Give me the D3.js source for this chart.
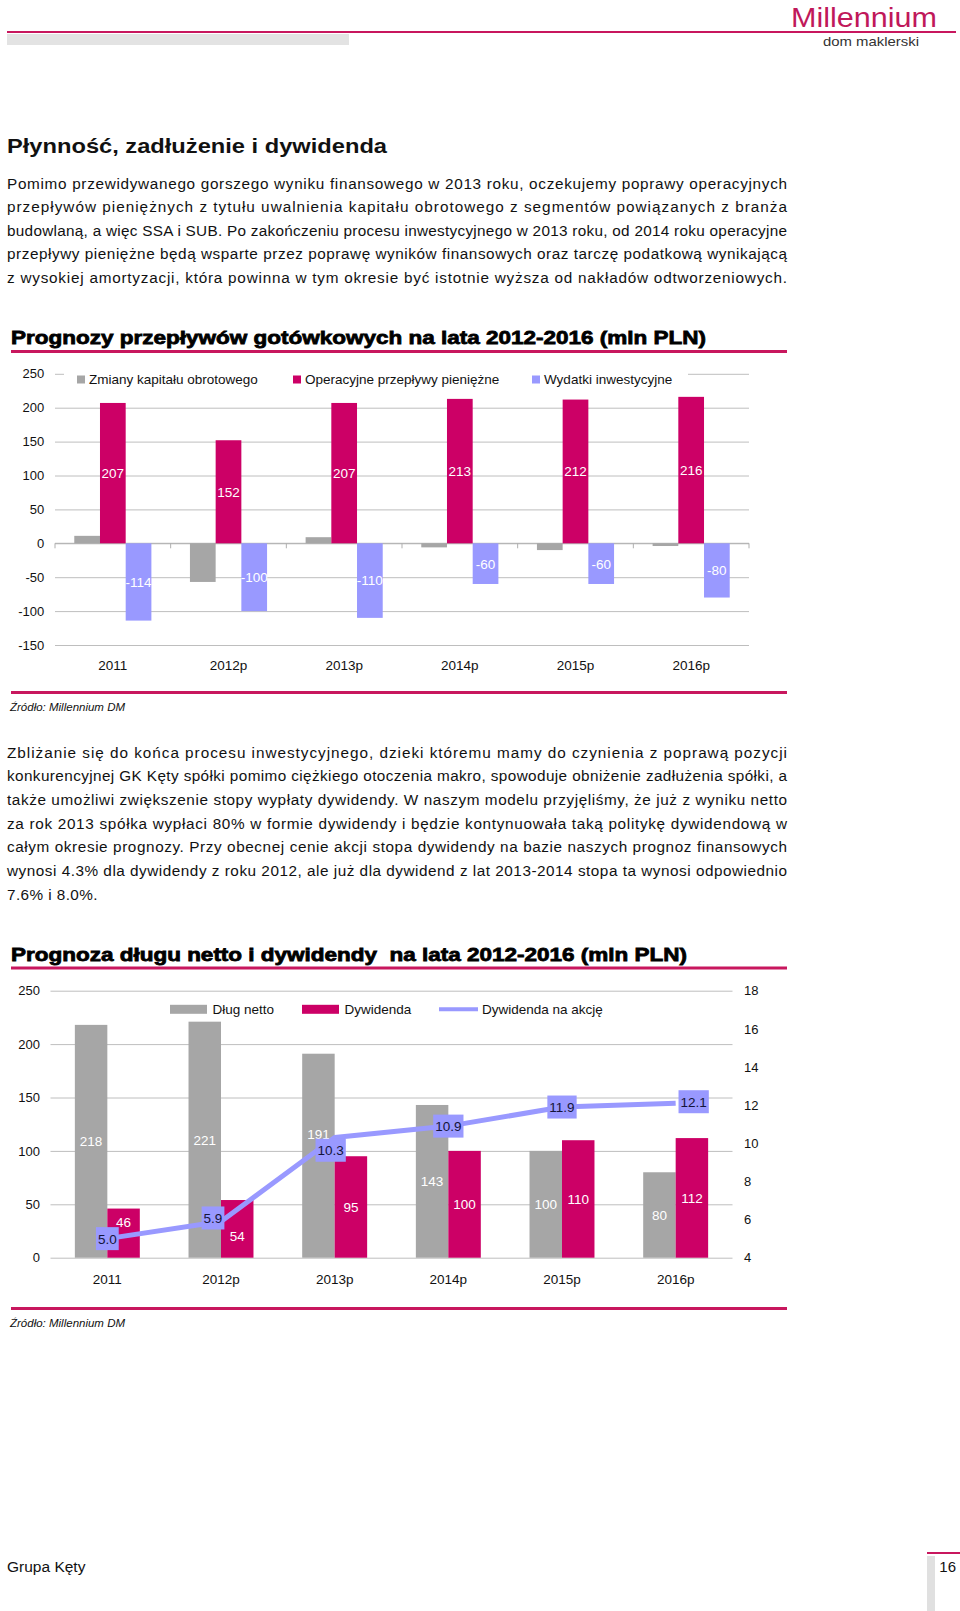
<!DOCTYPE html>
<html><head><meta charset="utf-8">
<script src="https://cdn.jsdelivr.net/npm/d3@7"></script>
<style>
html,body{margin:0;padding:0;background:#fff;}
svg{display:block;}
text{font-family:"Liberation Sans", Arial, sans-serif;}
</style></head><body>
<svg id="page" width="960" height="1611"></svg>
<script>
// ---------- DATA ----------
const cfCategories = ["2011", "2012p", "2013p", "2014p", "2015p", "2016p"];
const cfSeriesNames = ["Zmiany kapitału obrotowego", "Operacyjne przepływy pieniężne", "Wydatki inwestycyjne"];
const cfWorkingCapital = [11, -57, 9, -6, -10, -4];
const cfOperating = [207, 152, 207, 213, 212, 216];
const cfCapex = [-114, -100, -110, -60, -60, -80];
const cfYTicks = [-150, -100, -50, 0, 50, 100, 150, 200, 250];

const dvCategories = ["2011", "2012p", "2013p", "2014p", "2015p", "2016p"];
const dvSeriesNames = ["Dług netto", "Dywidenda", "Dywidenda na akcję"];
const dvNetDebt = [218, 221, 191, 143, 100, 80];
const dvDividend = [46, 54, 95, 100, 110, 112];
const dvDps = [5.0, 5.9, 10.3, 10.9, 11.9, 12.1];
const dvYLeftTicks = [0, 50, 100, 150, 200, 250];
const dvYRightTicks = [4, 6, 8, 10, 12, 14, 16, 18];

const para1 = [
  "Pomimo przewidywanego gorszego wyniku finansowego w 2013 roku, oczekujemy poprawy operacyjnych",
  "przepływów pieniężnych z tytułu uwalnienia kapitału obrotowego z segmentów powiązanych z branża",
  "budowlaną, a więc SSA i SUB.  Po zakończeniu procesu inwestycyjnego w 2013 roku, od 2014 roku operacyjne",
  "przepływy pieniężne będą wsparte przez poprawę wyników finansowych oraz tarczę podatkową wynikającą",
  "z wysokiej amortyzacji, która powinna w tym okresie być istotnie wyższa od nakładów odtworzeniowych."
];
const para2 = [
  "Zbliżanie się do końca procesu inwestycyjnego, dzieki któremu mamy do czynienia z poprawą pozycji",
  "konkurencyjnej GK Kęty spółki pomimo ciężkiego otoczenia makro, spowoduje obniżenie zadłużenia spółki, a",
  "także umożliwi zwiększenie stopy wypłaty dywidendy. W naszym modelu przyjęliśmy, że już z wyniku netto",
  "za rok 2013 spółka wypłaci 80% w formie dywidendy i będzie kontynuowała taką politykę dywidendową w",
  "całym okresie prognozy. Przy obecnej cenie akcji stopa dywidendy na bazie naszych prognoz finansowych",
  "wynosi 4.3% dla dywidendy z roku 2012, ale już dla dywidend z lat 2013-2014 stopa ta wynosi odpowiednio",
  "7.6% i 8.0%."
];

// ---------- STYLE / LAYOUT ----------
const MAG = "#CC0066", GRAY = "#A6A6A6", BLUE = "#9999FF", GRID = "#BEBEBE", RULE = "#C8175E";
const FONT = '"Liberation Sans", Arial, sans-serif';
const plainFmt = d => String(d);
// label nudges (px) to mirror the manually placed labels in the original
const dvBarLabelNudge = { netDebt: [0, 0, -22, 0, 0, 0], dividend: [-11, 7, 0, 0, 0, 0] };
const dvDpsLabelNudge = [[0, 0], [-8, -3.5], [-4, 12.7], [0, 0], [0, 0], [18, -1.5]];

const svg = d3.select("#page");
svg.append("rect").attr("width", 960).attr("height", 1611).attr("fill", "#fff");

// ---------- HEADER ----------
svg.append("line").attr("x1", 7).attr("x2", 956).attr("y1", 32).attr("y2", 32)
  .attr("stroke", RULE).attr("stroke-width", 2);
svg.append("rect").attr("x", 7).attr("y", 34).attr("width", 342).attr("height", 11).attr("fill", "#E3E3E3");
svg.append("text").attr("x", 791).attr("y", 26.5).attr("font-size", 28).attr("fill", "#C0185A")
  .attr("textLength", 146).attr("lengthAdjust", "spacingAndGlyphs").text("Millennium");
svg.append("text").attr("x", 823).attr("y", 46).attr("font-size", 13).attr("fill", "#333")
  .attr("textLength", 96).attr("lengthAdjust", "spacingAndGlyphs").text("dom maklerski");

// ---------- TEXT ----------
svg.append("text").attr("x", 7).attr("y", 152.5).attr("font-size", 21).attr("font-weight", "bold")
  .attr("fill", "#111").attr("textLength", 380).attr("lengthAdjust", "spacingAndGlyphs")
  .text("Płynność, zadłużenie i dywidenda");

function paragraph(lines, y0, lastWidth) {
  lines.forEach((ln, i) => {
    const t = svg.append("text").attr("x", 7).attr("y", y0 + i * 23.64 + 5.5)
      .attr("font-size", 15.3).attr("fill", "#111").text(ln.replace(/\s+/g, " "));
    const w = (i === lines.length - 1 && lastWidth) ? lastWidth : 780;
    t.attr("textLength", w).attr("lengthAdjust", "spacing");
  });
}
paragraph(para1, 183, 780);
paragraph(para2, 752.3, 90.5);

function chartTitle(txt, yc, width) {
  svg.append("text").attr("x", 11).attr("y", yc + 7).attr("font-size", 19).attr("font-weight", "bold")
    .attr("fill", "#000").attr("stroke", "#000").attr("stroke-width", 0.8)
    .attr("textLength", width).attr("lengthAdjust", "spacingAndGlyphs")
    .style("white-space", "pre").text(txt);
}
function rule(y) {
  svg.append("line").attr("x1", 11).attr("x2", 787).attr("y1", y).attr("y2", y)
    .attr("stroke", RULE).attr("stroke-width", 3);
}
function source(y) {
  svg.append("text").attr("x", 10).attr("y", y + 4).attr("font-size", 11.5).attr("font-style", "italic")
    .attr("fill", "#111").text("Źródło: Millennium DM");
}

// ---------- CHART 1 ----------
chartTitle("Prognozy przepływów gotówkowych na lata 2012-2016 (mln PLN)", 337, 695);
rule(351.5);
{
  const g = svg.append("g");
  const x = d3.scaleBand().domain(cfCategories).range([55, 749]);
  const s = d3.scaleBand().domain(cfSeriesNames).range([0, x.bandwidth()]).paddingOuter(0.75);
  const y = d3.scaleLinear().domain([-150, 250]).range([645, 373.8]);

  const ya = g.append("g").attr("transform", "translate(55,0)")
    .call(d3.axisLeft(y).tickValues(cfYTicks).tickSize(-694).tickPadding(10.7).tickFormat(plainFmt));
  ya.select(".domain").remove();
  ya.selectAll("line").attr("stroke", GRID);
  ya.selectAll("text").attr("font-size", 13).attr("font-family", FONT).attr("fill", "#111");

  // zero axis with category boundary ticks
  g.append("line").attr("x1", 55).attr("x2", 749).attr("y1", y(0)).attr("y2", y(0)).attr("stroke", "#AFAFAF");
  const bounds = cfCategories.map(c => x(c)).concat([x(cfCategories[cfCategories.length - 1]) + x.bandwidth()]);
  g.selectAll("line.bt").data(bounds).join("line").attr("class", "bt")
    .attr("x1", d => d).attr("x2", d => d).attr("y1", y(0)).attr("y2", y(0) + 5).attr("stroke", "#AFAFAF");

  const series = [
    { name: cfSeriesNames[0], vals: cfWorkingCapital, color: GRAY, label: false },
    { name: cfSeriesNames[1], vals: cfOperating, color: MAG, label: true },
    { name: cfSeriesNames[2], vals: cfCapex, color: BLUE, label: true }
  ];
  series.forEach(se => {
    const data = cfCategories.map((c, i) => ({ c, v: se.vals[i] }));
    g.selectAll(null).data(data).join("rect")
      .attr("x", d => x(d.c) + s(se.name)).attr("width", s.bandwidth())
      .attr("y", d => Math.min(y(d.v), y(0))).attr("height", d => Math.abs(y(d.v) - y(0)))
      .attr("fill", se.color);
  });
  series.filter(se => se.label).forEach(se => {
    const data = cfCategories.map((c, i) => ({ c, v: se.vals[i] }));
    g.selectAll(null).data(data).join("text")
      .attr("x", d => x(d.c) + s(se.name) + s.bandwidth() / 2)
      .attr("y", d => (y(d.v) + y(0)) / 2).attr("dy", "0.36em")
      .attr("text-anchor", "middle").attr("font-size", 13.5).attr("fill", "#fff").text(d => String(d.v));
  });

  const xa = g.append("g").attr("transform", `translate(0,${y(-150)})`)
    .call(d3.axisBottom(x).tickSize(0).tickPadding(15.3));
  xa.select(".domain").remove();
  xa.selectAll("text").attr("font-size", 13.5).attr("font-family", FONT).attr("fill", "#111");

  // legend
  g.append("rect").attr("x", 64).attr("y", 366).attr("width", 624).attr("height", 26).attr("fill", "#fff");
  const lx = [77, 293, 532];
  const lg = g.selectAll("g.leg").data(series).join("g").attr("class", "leg")
    .attr("transform", (d, i) => `translate(${lx[i]},379.5)`);
  lg.append("rect").attr("x", 0).attr("y", -4).attr("width", 8).attr("height", 8).attr("fill", d => d.color);
  lg.append("text").attr("x", 12).attr("dy", "0.36em").attr("font-size", 13.5).attr("fill", "#111").text(d => d.name);
}
rule(692.5);
source(707);

// ---------- CHART 2 ----------
chartTitle("Prognoza długu netto i dywidendy  na lata 2012-2016 (mln PLN)", 953.5, 676);
rule(968);
{
  const g = svg.append("g");
  const x = d3.scaleBand().domain(dvCategories).range([50.5, 732.5]);
  const s = d3.scaleBand().domain(dvSeriesNames.slice(0, 2)).range([0, x.bandwidth()]).paddingOuter(0.75);
  const y = d3.scaleLinear().domain([0, 250]).range([1257.7, 990.7]);
  const yr = d3.scaleLinear().domain([4, 18]).range([1257.7, 990.7]);

  const ya = g.append("g").attr("transform", "translate(50.5,0)")
    .call(d3.axisLeft(y).tickValues(dvYLeftTicks).tickSize(-682).tickPadding(10.5).tickFormat(plainFmt));
  ya.select(".domain").remove();
  ya.selectAll("line").attr("stroke", GRID);
  ya.selectAll("text").attr("font-size", 13).attr("font-family", FONT).attr("fill", "#111");

  const yra = g.append("g").attr("transform", "translate(732.5,0)")
    .call(d3.axisRight(yr).tickValues(dvYRightTicks).tickSize(0).tickPadding(11.5).tickFormat(plainFmt));
  yra.select(".domain").remove();
  yra.selectAll("text").attr("font-size", 13).attr("font-family", FONT).attr("fill", "#111");

  const bars = [
    { key: "netDebt", name: dvSeriesNames[0], vals: dvNetDebt, color: GRAY },
    { key: "dividend", name: dvSeriesNames[1], vals: dvDividend, color: MAG }
  ];
  bars.forEach(se => {
    const data = dvCategories.map((c, i) => ({ c, v: se.vals[i] }));
    g.selectAll(null).data(data).join("rect")
      .attr("x", d => x(d.c) + s(se.name)).attr("width", s.bandwidth())
      .attr("y", d => y(d.v)).attr("height", d => y(0) - y(d.v)).attr("fill", se.color);
  });
  bars.forEach(se => {
    const data = dvCategories.map((c, i) => ({ c, v: se.vals[i], n: dvBarLabelNudge[se.key][i] }));
    g.selectAll(null).data(data).join("text")
      .attr("x", d => x(d.c) + s(se.name) + s.bandwidth() / 2)
      .attr("y", d => (y(d.v) + y(0)) / 2 + d.n).attr("dy", "0.36em")
      .attr("text-anchor", "middle").attr("font-size", 13.5).attr("fill", "#fff").text(d => String(d.v));
  });

  const cx = c => x(c) + x.bandwidth() / 2;
  const pts = dvCategories.map((c, i) => ({ c, v: dvDps[i], i }));
  g.append("path").datum(pts)
    .attr("d", d3.line().x(d => cx(d.c)).y(d => yr(d.v)))
    .attr("fill", "none").attr("stroke", BLUE).attr("stroke-width", 5).attr("stroke-linejoin", "round");

  const lab = g.selectAll("g.dps").data(pts).join("g").attr("class", "dps")
    .attr("transform", d => `translate(${cx(d.c) + dvDpsLabelNudge[d.i][0]},${yr(d.v) + dvDpsLabelNudge[d.i][1]})`);
  lab.append("rect").attr("fill", BLUE);
  lab.append("text").attr("text-anchor", "middle").attr("dy", "0.36em").attr("font-size", 13.5)
    .attr("fill", "#14143a").text(d => d3.format(".1f")(d.v));
  lab.each(function () {
    const t = d3.select(this).select("text").node();
    const w = t.getComputedTextLength() + 4;
    d3.select(this).select("rect").attr("x", -w / 2).attr("y", -11.5).attr("width", w).attr("height", 23);
  });

  const xa = g.append("g").attr("transform", `translate(0,${y(0)})`)
    .call(d3.axisBottom(x).tickSize(0).tickPadding(16.6));
  xa.select(".domain").remove();
  xa.selectAll("text").attr("font-size", 13.5).attr("font-family", FONT).attr("fill", "#111");

  // legend
  const lx = [170, 302, 439];
  const lg = g.selectAll("g.leg2").data(dvSeriesNames).join("g").attr("class", "leg2")
    .attr("transform", (d, i) => `translate(${lx[i]},1009.3)`);
  lg.each(function (d, i) {
    const gg = d3.select(this);
    if (i < 2) gg.append("rect").attr("x", 0).attr("y", -4.5).attr("width", 37).attr("height", 9)
      .attr("fill", i === 0 ? GRAY : MAG);
    else gg.append("line").attr("x1", 0).attr("x2", 39).attr("y1", 0).attr("y2", 0)
      .attr("stroke", BLUE).attr("stroke-width", 4);
  });
  lg.append("text").attr("x", (d, i) => i < 2 ? 42.5 : 43).attr("dy", "0.36em")
    .attr("font-size", 13.5).attr("fill", "#111").text(d => d);
}
rule(1308.4);
source(1323);

// ---------- FOOTER ----------
svg.append("text").attr("x", 7).attr("y", 1571.5).attr("font-size", 15.5).attr("fill", "#111").text("Grupa Kęty");
svg.append("line").attr("x1", 927).attr("x2", 960).attr("y1", 1553).attr("y2", 1553).attr("stroke", RULE).attr("stroke-width", 2);
svg.append("rect").attr("x", 927).attr("y", 1556).attr("width", 8).attr("height", 55).attr("fill", "#E0E0E0");
svg.append("text").attr("x", 956).attr("y", 1571.5).attr("font-size", 15).attr("text-anchor", "end").attr("fill", "#111").text("16");
</script>
</body></html>
